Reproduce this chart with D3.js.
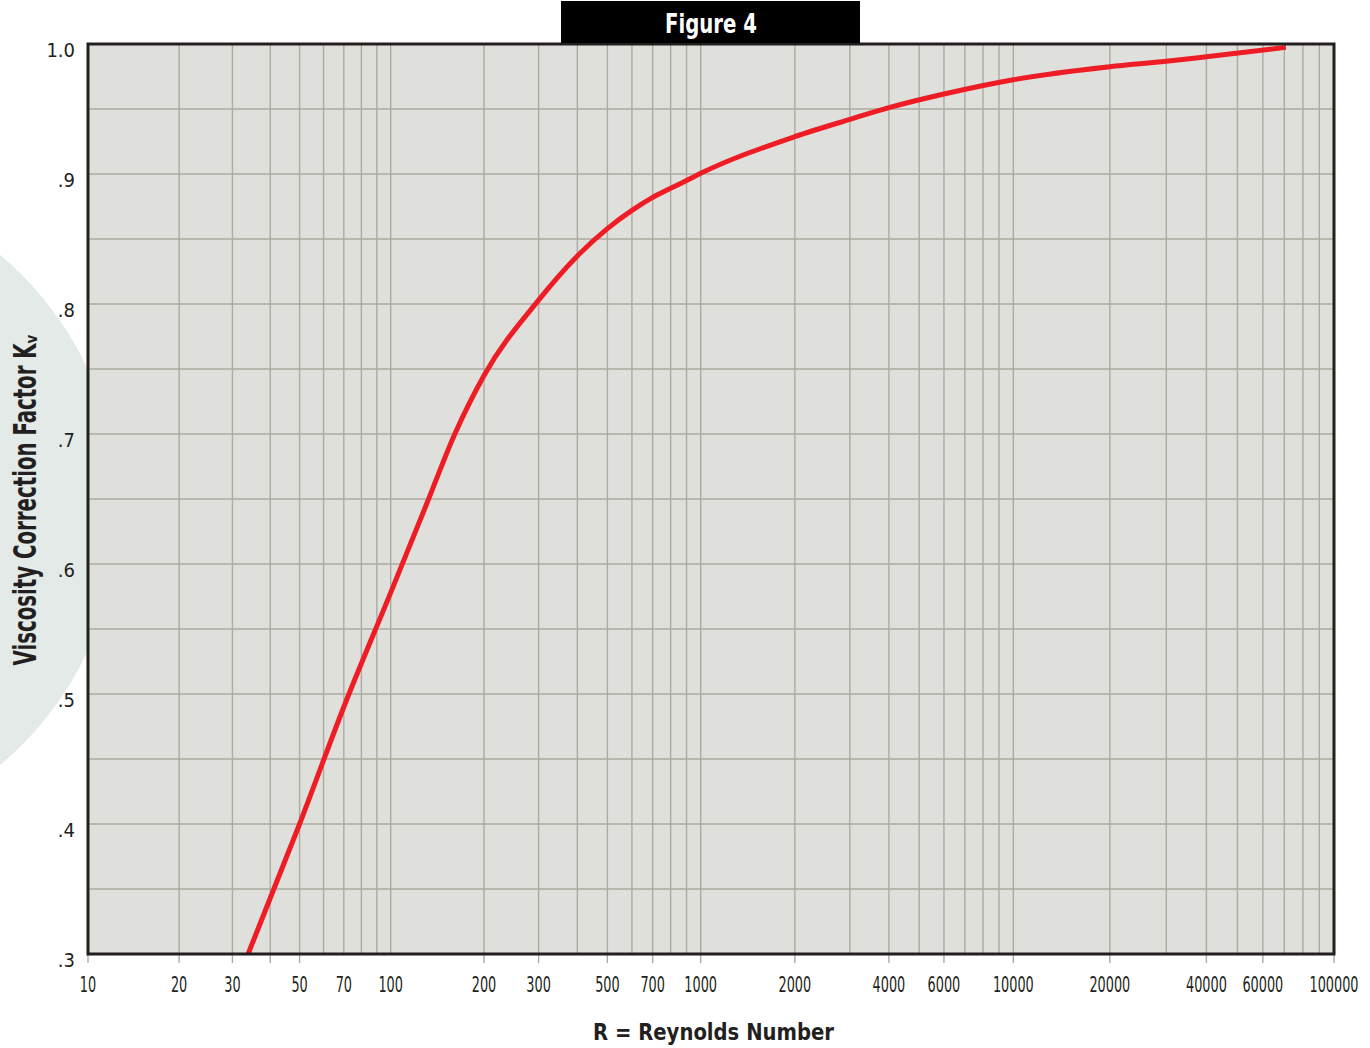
<!DOCTYPE html>
<html>
<head>
<meta charset="utf-8">
<script src="https://cdn.jsdelivr.net/npm/d3@7/dist/d3.min.js"></script>
<style>
  html, body { margin: 0; padding: 0; background: #ffffff; }
  svg { display: block; }
</style>
</head>
<body>
<svg id="chart" width="1370" height="1048"></svg>
<script>
// ---- Data ----
const reynolds = [33.8, 50, 70, 100, 130, 161, 200, 300, 400, 500, 600, 700, 800, 900, 1000, 2000, 3000, 4000, 6000, 10000, 20000, 30000, 40000, 70800];
const kv = [0.300, 0.400, 0.490, 0.578, 0.645, 0.700, 0.745, 0.803, 0.837, 0.858, 0.872, 0.882, 0.889, 0.895, 0.9005, 0.9287, 0.942, 0.951, 0.9615, 0.9725, 0.9825, 0.9867, 0.9902, 0.9974];

const xTickValues = [10, 20, 30, 50, 70, 100, 200, 300, 500, 700, 1000, 2000, 4000, 6000, 10000, 20000, 40000, 60000, 100000];
const xTickLabels = ["10", "20", "30", "50", "70", "100", "200", "300", "500", "700", "1000", "2000", "4000", "6000", "10000", "20000", "40000", "60000", "100000"];
const xTickMarks = [10, 20, 30, 40, 50, 200, 300, 500, 700, 1000, 2000, 4000, 6000, 10000, 20000, 40000, 60000, 100000];
const yTickValues = [0.3, 0.4, 0.5, 0.6, 0.7, 0.8, 0.9, 1.0];
const yTickLabels = [".3", ".4", ".5", ".6", ".7", ".8", ".9", "1.0"];
const decades = [10, 100, 1000, 10000, 100000];

const titleText = "Figure 4";
const xTitle = "R = Reynolds Number";
const yTitleMain = "Viscosity Correction Factor K";
const yTitleSub = "v";

// ---- Layout ----
const svg = d3.select("#chart");
const L = 88, R = 1334, T = 44, B = 954;
const FONT = "'Liberation Sans Narrow', 'DejaVu Sans Condensed', 'Roboto', sans-serif";
const INK = "#231f20";

const x = d3.scaleLog().domain(decades).range([88, 390.7, 700.7, 1013.3, 1334]);
const y = d3.scaleLinear().domain([0.3, 1.0]).range([B, T]);

// background decorative arc
svg.append("circle")
  .attr("cx", -214).attr("cy", 510).attr("r", 333)
  .attr("fill", "#e4eae7");

// plot background
svg.append("rect")
  .attr("x", L).attr("y", T).attr("width", R - L).attr("height", B - T)
  .attr("fill", "#dfe0db");

// vertical grid lines (1..9 per decade)
const gridX = [];
decades.slice(0, -1).forEach(d => { for (let m = 1; m <= 9; m++) gridX.push(d * m); });
gridX.push(100000);
svg.append("g").selectAll("line").data(gridX).join("line")
  .attr("x1", d => x(d)).attr("x2", d => x(d))
  .attr("y1", T).attr("y2", B)
  .attr("stroke", "#abab9f").attr("stroke-width", 1.4);

// horizontal grid lines every .05
const gridY = d3.range(0.35, 0.999, 0.05);
svg.append("g").selectAll("line").data(gridY).join("line")
  .attr("x1", L).attr("x2", R)
  .attr("y1", d => y(d)).attr("y2", d => y(d))
  .attr("stroke", "#abab9f").attr("stroke-width", 1.4);

// x tick marks below the axis
svg.append("g").selectAll("line").data(xTickMarks).join("line")
  .attr("x1", d => x(d)).attr("x2", d => x(d))
  .attr("y1", B).attr("y2", B + 9)
  .attr("stroke", "#abab9f").attr("stroke-width", 1.4);

// x tick labels (horizontally compressed, like the reference's condensed face)
svg.append("g").selectAll("text").data(xTickValues).join("text")
  .attr("transform", d => `translate(${x(d)},992) scale(0.68,1)`)
  .attr("text-anchor", "middle")
  .attr("font-family", FONT).attr("font-size", 21)
  .attr("fill", INK)
  .text((d, i) => xTickLabels[i]);

// y tick labels
svg.append("g").selectAll("text").data(yTickValues).join("text")
  .attr("x", 75).attr("y", d => y(d) + 13)
  .attr("text-anchor", "end")
  .attr("font-family", FONT).attr("font-size", 20)
  .attr("fill", INK)
  .text((d, i) => yTickLabels[i]);

// curve
const line = d3.line()
  .x((d, i) => x(reynolds[i]))
  .y((d, i) => y(kv[i]))
  .curve(d3.curveMonotoneX);
svg.append("path")
  .datum(kv)
  .attr("d", line)
  .attr("fill", "none")
  .attr("stroke", "#ee1c25")
  .attr("stroke-width", 5)
  .attr("stroke-linecap", "butt");

// plot frame
svg.append("rect")
  .attr("x", L).attr("y", T).attr("width", R - L).attr("height", B - T)
  .attr("fill", "none").attr("stroke", INK).attr("stroke-width", 3);

// title box
svg.append("rect")
  .attr("x", 561).attr("y", 1).attr("width", 299).attr("height", 42)
  .attr("fill", "#000000");
svg.append("text")
  .attr("x", 711).attr("y", 33)
  .attr("text-anchor", "middle")
  .attr("font-family", FONT).attr("font-weight", "bold").attr("font-size", 27)
  .attr("fill", "#ffffff")
  .attr("textLength", 92).attr("lengthAdjust", "spacingAndGlyphs")
  .text(titleText);

// x axis title
svg.append("text")
  .attr("x", 713.5).attr("y", 1040)
  .attr("text-anchor", "middle")
  .attr("font-family", FONT).attr("font-weight", "bold").attr("font-size", 23)
  .attr("fill", INK)
  .attr("textLength", 241).attr("lengthAdjust", "spacingAndGlyphs")
  .text(xTitle);

// y axis title (rotated)
const yt = svg.append("text")
  .attr("transform", "translate(36,500) rotate(-90)")
  .attr("text-anchor", "middle")
  .attr("font-family", FONT).attr("font-weight", "bold").attr("font-size", 32)
  .attr("fill", INK);
yt.append("tspan").text(yTitleMain)
  .attr("textLength", 322).attr("lengthAdjust", "spacingAndGlyphs");
yt.append("tspan").text(yTitleSub)
  .attr("font-size", 15).attr("dy", 1);
</script>
</body>
</html>
